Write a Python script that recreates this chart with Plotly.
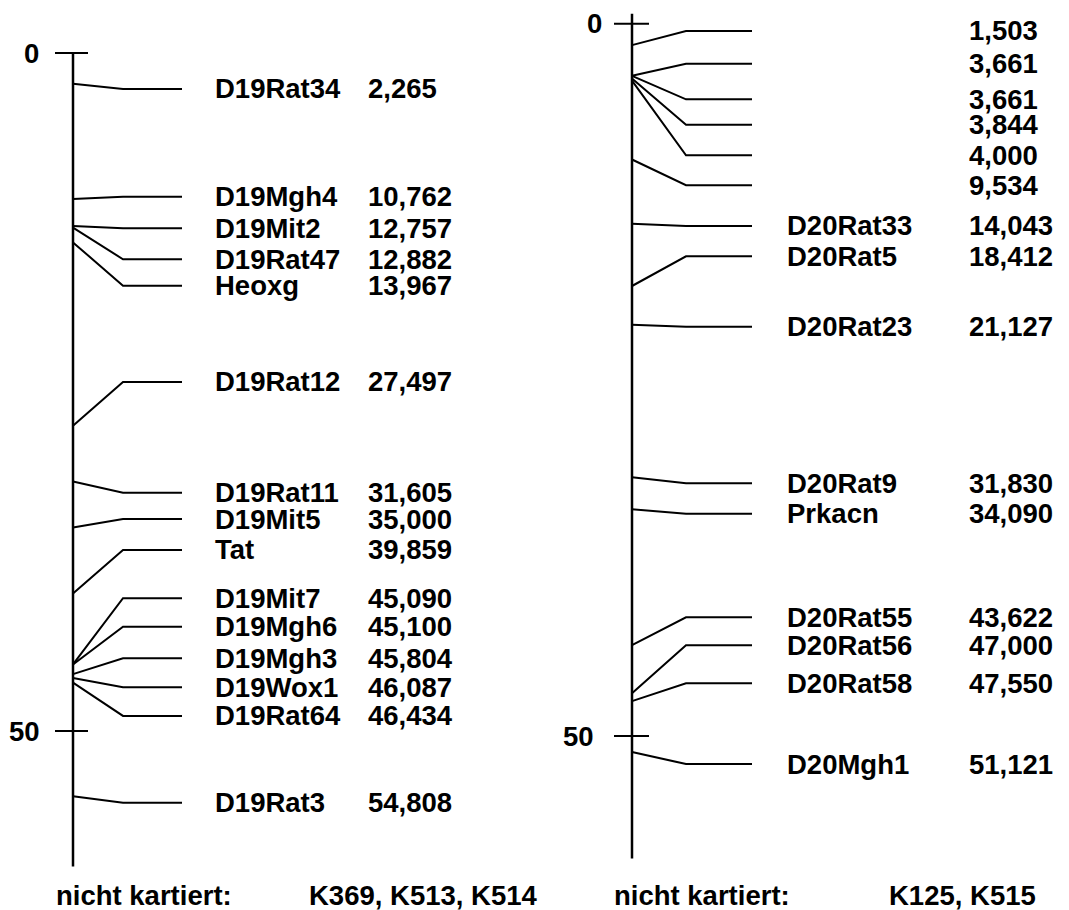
import plotly.graph_objects as go

# ---------------- data ----------------
# Chromosome 19
chr19_markers = ["D19Rat34", "D19Mgh4", "D19Mit2", "D19Rat47", "Heoxg", "D19Rat12",
                 "D19Rat11", "D19Mit5", "Tat", "D19Mit7", "D19Mgh6", "D19Mgh3",
                 "D19Wox1", "D19Rat64", "D19Rat3"]
chr19_pos = [2.265, 10.762, 12.757, 12.882, 13.967, 27.497, 31.605, 35.000, 39.859,
             45.090, 45.100, 45.804, 46.087, 46.434, 54.808]
chr19_extent = [0, 60.0]
chr19_unmapped = "K369, K513, K514"

# Chromosome 20
chr20_markers = ["", "", "", "", "", "", "D20Rat33", "D20Rat5", "D20Rat23", "D20Rat9",
                 "Prkacn", "D20Rat55", "D20Rat56", "D20Rat58", "D20Mgh1"]
chr20_pos = [1.503, 3.661, 3.661, 3.844, 4.000, 9.534, 14.043, 18.412, 21.127, 31.830,
             34.090, 43.622, 47.000, 47.550, 51.121]
chr20_extent = [-0.7, 58.6]
chr20_unmapped = "K125, K515"

tick_values = [0, 50]
unmapped_label = "nicht kartiert:"

# ---------------- layout (label slots, in axis units) ----------------
chr19_label_slot = [2.65, 10.60, 12.93, 15.21, 17.16, 24.26, 32.43, 34.37, 36.65,
                    40.21, 42.31, 44.64, 46.78, 48.89, 55.29]
chr20_label_slot = [0.51, 2.81, 5.31, 7.09, 9.24, 11.34, 14.20, 16.33, 21.27, 32.26,
                    34.40, 41.67, 43.63, 46.30, 51.97]

W, H = 1069, 910
FONT = dict(family="Liberation Sans, Arial, sans-serif", size=27.5, color="black", weight="bold")
LW = 2

def fmt(v):
    return f"{v:.3f}".replace(".", ",")

# pixel calibrations of each chromosome: pixel of 0 cM and px per cM
cal = {
    "y":  dict(zero=53.0, scale=13.56),
    "y2": dict(zero=23.7, scale=14.246),
}

chroms = [
    dict(yref="y", markers=chr19_markers, pos=chr19_pos, slot=chr19_label_slot,
         extent=chr19_extent, unmapped=chr19_unmapped,
         cx=73, bend=123, end=182, name_x=214, num_x=367,
         tick=(55, 88), ticklab_x={0: 40, 50: 41},
         unm_x=(55, 308)),
    dict(yref="y2", markers=chr20_markers, pos=chr20_pos, slot=chr20_label_slot,
         extent=chr20_extent, unmapped=chr20_unmapped,
         cx=632, bend=686, end=752, name_x=786, num_x=968,
         tick=(614, 649), ticklab_x={0: 603, 50: 595},
         unm_x=(613, 888)),
]

fig = go.Figure()
annotations = []

for c in chroms:
    yref = c["yref"]
    # chromosome backbone
    fig.add_trace(go.Scatter(x=[c["cx"], c["cx"]], y=c["extent"], mode="lines",
                             line=dict(color="black", width=2.5), xaxis="x", yaxis=yref,
                             hoverinfo="skip", showlegend=False))
    # ticks
    tx, ty = [], []
    for t in tick_values:
        tx += [c["tick"][0], c["tick"][1], None]
        ty += [t, t, None]
        annotations.append(dict(x=c["ticklab_x"][t], y=t, xref="x", yref=yref,
                                text=str(t), showarrow=False, xanchor="right",
                                yanchor="middle", font=FONT, borderpad=0))
    fig.add_trace(go.Scatter(x=tx, y=ty, mode="lines", line=dict(color="black", width=LW),
                             xaxis="x", yaxis=yref, hoverinfo="skip", showlegend=False))
    # marker connectors
    mx, my = [], []
    for p, s in zip(c["pos"], c["slot"]):
        mx += [c["cx"], c["bend"], c["end"], None]
        my += [p, s, s, None]
    fig.add_trace(go.Scatter(x=mx, y=my, mode="lines", line=dict(color="black", width=LW),
                             xaxis="x", yaxis=yref, hoverinfo="skip", showlegend=False))
    # labels
    for name, p, s in zip(c["markers"], c["pos"], c["slot"]):
        if name:
            annotations.append(dict(x=c["name_x"], y=s, xref="x", yref=yref, text=name,
                                    showarrow=False, xanchor="left", yanchor="middle",
                                    font=FONT, borderpad=0))
        annotations.append(dict(x=c["num_x"], y=s, xref="x", yref=yref, text=fmt(p),
                                showarrow=False, xanchor="left", yanchor="middle",
                                font=FONT, borderpad=0))
    # unmapped
    annotations.append(dict(x=c["unm_x"][0], y=1 - 895 / H, xref="x", yref="paper",
                            text=unmapped_label, showarrow=False, xanchor="left",
                            yanchor="middle", font=FONT, borderpad=0))
    annotations.append(dict(x=c["unm_x"][1], y=1 - 895 / H, xref="x", yref="paper",
                            text=c["unmapped"], showarrow=False, xanchor="left",
                            yanchor="middle", font=FONT, borderpad=0))

def yrange(k):
    z, s = cal[k]["zero"], cal[k]["scale"]
    return [(H - z) / s, (0 - z) / s]

hidden = dict(visible=False, showgrid=False, zeroline=False, fixedrange=True)
fig.update_layout(
    width=W, height=H,
    margin=dict(l=0, r=0, t=0, b=0),
    paper_bgcolor="white", plot_bgcolor="white",
    showlegend=False,
    xaxis=dict(range=[0, W], domain=[0, 1], **hidden),
    yaxis=dict(range=yrange("y"), domain=[0, 1], **hidden),
    yaxis2=dict(range=yrange("y2"), domain=[0, 1], anchor="x", overlaying="y", **hidden),
    annotations=annotations,
)

fig.write_html("out.html", config={"displayModeBar": False},
               post_script="document.body.style.margin='0';document.body.style.overflow='hidden';")
